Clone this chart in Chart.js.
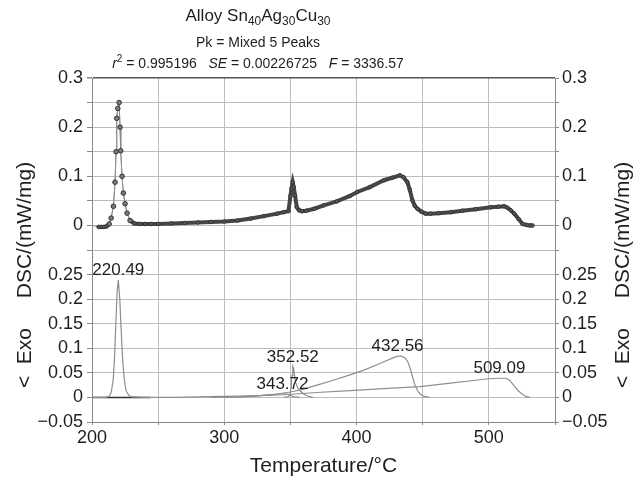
<!DOCTYPE html>
<html>
<head>
<meta charset="utf-8">
<script src="https://cdn.jsdelivr.net/npm/chart.js@4"></script>
<style>
html, body { margin: 0; padding: 0; background: #fff; }
#wrap { position: relative; width: 644px; height: 482px; font-family: "Liberation Sans", Arial, sans-serif; color: #1f1f1f; }
.t { position: absolute; left: 0; width: 516px; text-align: center; line-height: 1; white-space: pre; }
sub { font-size: 12px; line-height: 0; vertical-align: -4px; }
sup { font-size: 10px; line-height: 0; vertical-align: 6px; }
canvas { position: absolute; left: 0; top: 0; }
</style>
</head>
<body>
<div id="wrap">
  <canvas id="dsc" width="644" height="482"></canvas>
  <div class="t" style="top:7px;font-size:17px">Alloy Sn<sub>40</sub>Ag<sub>30</sub>Cu<sub>30</sub></div>
  <div class="t" style="top:35px;font-size:14px">Pk = Mixed 5 Peaks</div>
  <div class="t" style="top:56px;font-size:14px"><i>r</i><sup>2</sup> = 0.995196   <i>SE</i> = 0.00226725   <i>F</i> = 3336.57</div>
</div>
<script>
// upper panel sits on the same axis, shifted up by this amount
const TOP_OFFSET = 0.35;

// measured DSC curve (upper panel)
const measT = [205, 207, 209, 211, 213, 214.5, 216.2, 217.4, 218.2, 218.7, 219.5, 220.5, 221.2, 221.7, 222.7, 223.7,
    225, 226.5, 228.8, 232, 236, 240, 245, 250, 260, 270, 280, 290, 300, 310, 320, 330, 340, 345, 348.5, 350,
    350.8, 351.7, 352.5, 353.5, 354.8, 356.5, 358.6, 362, 368, 375.2, 385, 395, 400.5, 410, 420.7, 427, 432.8,
    435.5, 438.4, 440.3, 442.2, 444, 446, 449, 452.3, 456, 462, 471.2, 480, 490, 501.5, 507, 511.6, 514, 516.5,
    519.2, 522.5, 525.5, 528.5, 531, 533];
const measV = [-0.003, -0.003, -0.003, -0.002, 0.003, 0.015, 0.039, 0.088, 0.15, 0.218, 0.238, 0.25, 0.2, 0.152, 0.1, 0.066,
    0.044, 0.025, 0.01, 0.004, 0.003, 0.003, 0.003, 0.003, 0.004, 0.005, 0.006, 0.007, 0.008, 0.01, 0.014, 0.019, 0.024, 0.027, 0.029, 0.06,
    0.075, 0.088, 0.078, 0.061, 0.037, 0.031, 0.029, 0.03, 0.034, 0.041, 0.049, 0.06, 0.068, 0.078, 0.092, 0.097, 0.102,
    0.098, 0.088, 0.072, 0.051, 0.04, 0.034, 0.028, 0.024, 0.024, 0.025, 0.027, 0.03, 0.033, 0.037, 0.038, 0.039, 0.036, 0.031,
    0.024, 0.013, 0.003, 0.001, 0, 0];

// fitted peak components (lower panel)
const baseT = [200, 244];
const baseV = [0, 0];

const p220T = [200, 210, 213, 214.5, 216, 217, 218, 219, 219.9, 221, 222, 223, 224, 225, 226, 228, 230, 240, 262];
const p220V = [0, 0, 0.002, 0.01, 0.035, 0.08, 0.15, 0.215, 0.239, 0.2, 0.14, 0.085, 0.048, 0.025, 0.012, 0.004, 0.001, 0, 0];

const p343T = [290, 310, 325, 335, 341, 344, 347, 350, 353, 357];
const p343V = [0, 0.001, 0.003, 0.005, 0.007, 0.008, 0.007, 0.004, 0.001, 0];

const p352T = [345, 348, 349.5, 350.5, 351.2, 351.8, 352.5, 353.2, 354, 355.5, 357.5, 360, 363, 367];
const p352V = [0, 0.001, 0.004, 0.02, 0.045, 0.063, 0.058, 0.042, 0.03, 0.02, 0.013, 0.007, 0.003, 0];

const p432T = [300, 320, 340, 350, 360, 370, 380, 395, 405, 415, 422, 428, 431, 434, 437, 439, 441, 442.5, 444, 446, 448, 451, 455];
const p432V = [0, 0.002, 0.007, 0.011, 0.017, 0.025, 0.033, 0.046, 0.055, 0.066, 0.074, 0.081, 0.084, 0.084, 0.08, 0.071, 0.055, 0.04, 0.026, 0.014, 0.007, 0.002, 0];

const p509T = [262, 280, 300, 320, 345, 370, 395, 420, 448, 471, 490, 500, 508, 513, 516, 519, 522, 525, 528, 531];
const p509V = [0, 0.001, 0.002, 0.003, 0.0055, 0.01, 0.014, 0.018, 0.022, 0.029, 0.035, 0.038, 0.039, 0.039, 0.034, 0.024, 0.014, 0.007, 0.002, 0];

const peakLabels = ['220.49', '343.72', '352.52', '432.56', '509.09'];

// axes
const xTickValues = [200, 250, 300, 350, 400, 450, 500, 550];
const xTickLabels = ['200', '', '300', '', '400', '', '500', ''];
const yTickValues = [-0.05, 0, 0.05, 0.1, 0.15, 0.2, 0.25, 0.3, 0.35, 0.4, 0.45, 0.5, 0.55, 0.6, 0.65];
const yTickLabels = ['\u22120.05', '0', '0.05', '0.1', '0.15', '0.2', '0.25', '', '0', '', '0.1', '', '0.2', '', '0.3'];

const xTitle = 'Temperature/\u00b0C';
const yTitleMain = 'DSC/(mW/mg)';
const yTitleExo = '<  Exo';

const FONT = '"Liberation Sans", Arial, sans-serif';

function pts(ts, vs, off) {
    return ts.map((t, i) => ({ x: t, y: vs[i] + (off || 0) }));
}

function component(ts, vs, label) {
    return {
        data: pts(ts, vs),
        showLine: true,
        borderColor: '#8e8e8e',
        borderWidth: 1.2,
        pointRadius: 0,
        peakLabel: label
    };
}

const inPeak = ctx => ctx.p0.parsed.x >= 212 && ctx.p1.parsed.x <= 230;
const peakPoint = ctx => ctx.raw && ctx.raw.x >= 212 && ctx.raw.x <= 230;

const peakLabelPlugin = {
    id: 'peakLabels',
    afterDatasetsDraw(chart) {
        const { ctx } = chart;
        ctx.save();
        ctx.font = '17px ' + FONT;
        ctx.fillStyle = '#1f1f1f';
        ctx.textAlign = 'center';
        ctx.textBaseline = 'bottom';
        chart.data.datasets.forEach((ds, i) => {
            if (!ds.peakLabel) return;
            const meta = chart.getDatasetMeta(i);
            let top = meta.data[0];
            meta.data.forEach(p => { if (p.y < top.y) top = p; });
            ctx.fillText(ds.peakLabel, top.x, top.y - 1);
        });
        ctx.restore();
    }
};

const axisTitlePlugin = {
    id: 'axisTitles',
    afterDraw(chart) {
        const { ctx, chartArea } = chart;
        const h = chartArea.bottom - chartArea.top;
        ctx.save();
        ctx.font = '21px ' + FONT;
        ctx.fillStyle = '#1f1f1f';
        ctx.textAlign = 'center';
        ctx.textBaseline = 'middle';
        [25, 623].forEach(x => {
            [[yTitleMain, 0.442], [yTitleExo, 0.814]].forEach(([txt, f]) => {
                ctx.save();
                ctx.translate(x, chartArea.top + f * h);
                ctx.rotate(-Math.PI / 2);
                ctx.fillText(txt, 0, 0);
                ctx.restore();
            });
        });
        ctx.restore();
    }
};

const measData = pts(measT, measV, TOP_OFFSET);
const fitData = [{ x: 200, y: TOP_OFFSET }, ...measData, { x: 550, y: TOP_OFFSET }];

new Chart(document.getElementById('dsc').getContext('2d'), {
    type: 'scatter',
    data: {
        datasets: [
            {
                data: measData,
                showLine: true,
                borderColor: '#454545',
                borderWidth: 4,
                segment: {
                    borderWidth: ctx => inPeak(ctx) ? 1 : 4,
                    borderColor: ctx => inPeak(ctx) ? '#8a8a8a' : '#454545'
                },
                pointRadius: ctx => peakPoint(ctx) ? 2.3 : 1.8,
                pointBackgroundColor: ctx => peakPoint(ctx) ? '#7a7a7a' : '#5a5a5a',
                pointBorderColor: '#333',
                pointBorderWidth: 1
            },
            {
                data: fitData,
                showLine: true,
                borderColor: '#9a9a9a',
                borderWidth: 1,
                pointRadius: 0
            },
            component(p220T, p220V, peakLabels[0]),
            component(p343T, p343V, peakLabels[1]),
            component(p352T, p352V, peakLabels[2]),
            component(p432T, p432V, peakLabels[3]),
            component(p509T, p509V, peakLabels[4]),
            {
                data: pts(baseT, baseV),
                showLine: true,
                borderColor: '#333',
                borderWidth: 1.4,
                pointRadius: 0
            }
        ]
    },
    options: {
        responsive: false,
        animation: false,
        devicePixelRatio: 1,
        layout: { padding: { top: 78, left: 0, right: 0, bottom: 0 } },
        plugins: { legend: { display: false }, tooltip: { enabled: false } },
        scales: {
            x: {
                type: 'linear',
                min: 200,
                max: 550,
                afterBuildTicks: s => { s.ticks = xTickValues.map(v => ({ value: v })); },
                afterFit: s => { s.height = 60; },
                ticks: {
                    autoSkip: false,
                    maxRotation: 0,
                    padding: 2,
                    color: '#1f1f1f',
                    font: { family: FONT, size: 18 },
                    callback: (v, i) => xTickLabels[i]
                },
                grid: { color: '#bdbdbd', tickLength: 3, tickColor: '#888' },
                border: { color: '#888' },
                title: {
                    display: true,
                    text: xTitle,
                    color: '#1f1f1f',
                    font: { family: FONT, size: 21 },
                    padding: { top: 0, bottom: 3 }
                }
            },
            y: {
                type: 'linear',
                position: 'left',
                min: -0.05,
                max: 0.65,
                afterBuildTicks: s => { s.ticks = yTickValues.map(v => ({ value: v })); },
                afterFit: s => { s.width = 92; },
                ticks: {
                    autoSkip: false,
                    padding: 4,
                    color: '#1f1f1f',
                    font: { family: FONT, size: 18 },
                    callback: (v, i) => yTickLabels[i]
                },
                grid: {
                    color: c => (c.tick && c.tick.value > 0.64) ? '#555' : '#bdbdbd',
                    lineWidth: c => (c.tick && c.tick.value > 0.64) ? 1.5 : 1,
                    tickLength: 5,
                    tickColor: '#888'
                },
                border: { color: '#888' }
            },
            y2: {
                type: 'linear',
                position: 'right',
                min: -0.05,
                max: 0.65,
                afterBuildTicks: s => { s.ticks = yTickValues.map(v => ({ value: v })); },
                afterFit: s => { s.width = 89; },
                ticks: {
                    autoSkip: false,
                    padding: 3,
                    color: '#1f1f1f',
                    font: { family: FONT, size: 18 },
                    callback: (v, i) => yTickLabels[i]
                },
                grid: { drawOnChartArea: false, tickLength: 4, tickColor: '#888' },
                border: { color: '#888' }
            }
        }
    },
    plugins: [peakLabelPlugin, axisTitlePlugin]
});
</script>
</body>
</html>
